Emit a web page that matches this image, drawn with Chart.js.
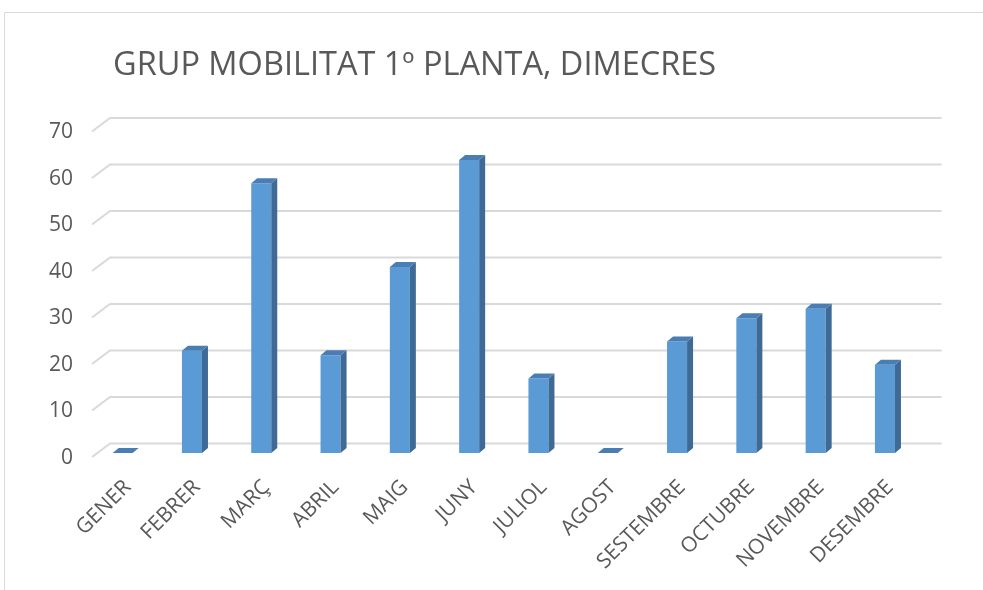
<!DOCTYPE html>
<html lang="ca">
<head>
<meta charset="UTF-8">
<title>Grup Mobilitat 1º planta</title>
<script src="https://cdn.jsdelivr.net/npm/chart.js"></script>
<style>
    html, body { margin: 0; padding: 0; background: #fff; }
    #wrap { width: 983px; height: 590px; }
</style>
</head>
<body>
<div id="wrap"><canvas id="chart" width="983" height="590"></canvas></div>
<script>
// chart data
const titleText = 'GRUP MOBILITAT 1º PLANTA, DIMECRES';
const months = ['GENER', 'FEBRER', 'MARÇ', 'ABRIL', 'MAIG', 'JUNY', 'JULIOL',
                'AGOST', 'SESTEMBRE', 'OCTUBRE', 'NOVEMBRE', 'DESEMBRE'];
const attendance = [0, 22, 58, 21, 40, 63, 16, 0, 24, 29, 31, 19];
const yTicks = [0, 10, 20, 30, 40, 50, 60, 70];

const textColor = '#595959';
const gridColor = '#D9D9D9';
const frontColor = '#5B9BD5';
const sideColor = '#3E6A95';
const topColor = '#4A7DB3';
const depth = { dx: 6, dy: 5 };

// frame, title, back wall grid
const backdrop = {
    id: 'backdrop',
    beforeDraw(chart) {
        const ctx = chart.ctx;
        ctx.save();
        ctx.fillStyle = '#fff';
        ctx.fillRect(0, 0, chart.width, chart.height);
        ctx.strokeStyle = gridColor;
        ctx.lineWidth = 1;
        ctx.beginPath();
        ctx.moveTo(4.5, chart.height);
        ctx.lineTo(4.5, 12.5);
        ctx.lineTo(chart.width, 12.5);
        ctx.stroke();
        ctx.fillStyle = textColor;
        ctx.font = '32.5px "Open Sans"';
        ctx.textBaseline = 'alphabetic';
        ctx.fillText(titleText, 113, 75);
        ctx.restore();
    },
    beforeDatasetsDraw(chart) {
        const ctx = chart.ctx;
        const y = chart.scales.y;
        const area = chart.chartArea;
        ctx.save();
        ctx.strokeStyle = gridColor;
        ctx.lineWidth = 2;
        yTicks.forEach(v => {
            const py = y.getPixelForValue(v);
            ctx.beginPath();
            ctx.moveTo(area.left + 4, py + 4);
            ctx.lineTo(area.left + 22, py - 9.5);
            ctx.lineTo(area.right + 22, py - 9.5);
            ctx.stroke();
        });
        ctx.restore();
    },
    afterDatasetsDraw(chart) {
        const ctx = chart.ctx;
        const meta = chart.getDatasetMeta(0);
        ctx.save();
        meta.data.forEach(bar => {
            const p = bar.getProps(['x', 'y', 'base', 'width'], true);
            const l = p.x - p.width / 2;
            const r = p.x + p.width / 2;
            if (p.base - p.y > 0.5) {
                ctx.fillStyle = sideColor;
                ctx.beginPath();
                ctx.moveTo(r, p.y);
                ctx.lineTo(r + depth.dx, p.y - depth.dy);
                ctx.lineTo(r + depth.dx, p.base - depth.dy);
                ctx.lineTo(r, p.base);
                ctx.closePath();
                ctx.fill();
            }
            ctx.fillStyle = topColor;
            ctx.beginPath();
            ctx.moveTo(l, p.y);
            ctx.lineTo(l + depth.dx, p.y - depth.dy);
            ctx.lineTo(r + depth.dx, p.y - depth.dy);
            ctx.lineTo(r, p.y);
            ctx.closePath();
            ctx.fill();
        });
        ctx.restore();
    }
};

function draw() {
    new Chart(document.getElementById('chart'), {
        type: 'bar',
        data: {
            labels: months,
            datasets: [{
                data: attendance,
                backgroundColor: frontColor,
                borderWidth: 0,
                categoryPercentage: 1,
                barPercentage: 0.289
            }]
        },
        options: {
            responsive: false,
            animation: false,
            devicePixelRatio: 1,
            layout: { padding: { top: 127.5, left: 0, right: 63.4, bottom: 0 } },
            plugins: {
                legend: { display: false },
                title: { display: false },
                tooltip: { enabled: false }
            },
            scales: {
                x: {
                    grid: { display: false },
                    border: { display: false },
                    ticks: {
                        autoSkip: false,
                        maxRotation: 45,
                        minRotation: 45,
                        color: textColor,
                        font: { family: 'Open Sans', size: 21 },
                        padding: 14,
                        labelOffset: 5
                    },
                    afterFit(s) { s.height = 137; s.paddingLeft = 0; s.paddingRight = 0; }
                },
                y: {
                    min: yTicks[0],
                    max: yTicks[yTicks.length - 1],
                    grid: { display: false },
                    border: { display: false },
                    ticks: {
                        stepSize: yTicks[1] - yTicks[0],
                        color: textColor,
                        font: { family: 'Open Sans', size: 21 },
                        padding: 7,
                        labelOffset: 5
                    },
                    afterFit(s) { s.width = 88; s.paddingTop = 0; s.paddingBottom = 0; }
                }
            }
        },
        plugins: [backdrop]
    });
}

if (document.fonts && document.fonts.load) {
    document.fonts.load('31px "Open Sans"').then(draw, draw);
} else {
    draw();
}
</script>
</body>
</html>
